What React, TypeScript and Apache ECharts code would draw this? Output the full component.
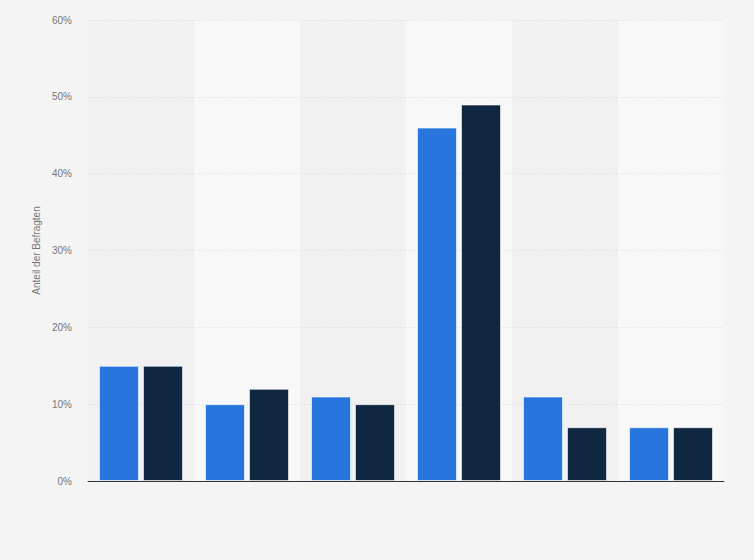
import React, { useEffect, useRef } from 'react'
import * as echarts from 'echarts'

const categories = ['Antwort 1', 'Antwort 2', 'Antwort 3', 'Antwort 4', 'Antwort 5', 'Antwort 6']
const seriesA = [15, 10, 11, 46, 11, 7]
const seriesB = [15, 12, 10, 49, 7, 7]
const yTicks = [0, 10, 20, 30, 40, 50, 60]

const App: React.FC = () => {
  const containerRef = useRef<HTMLDivElement>(null)

  useEffect(() => {
    if (!containerRef.current) return
    const chart = echarts.init(containerRef.current, undefined, { renderer: 'svg' })

    const font = 'Arial, Liberation Sans, sans-serif'
    const option: echarts.EChartsOption = {
      animation: false,
      backgroundColor: '#f4f4f4',
      grid: { left: 88, right: 30, top: 20, bottom: 79 },
      xAxis: {
        type: 'category',
        z: 0,
        data: categories,
        axisLabel: { show: false },
        axisTick: { show: false },
        axisLine: { lineStyle: { color: '#333333', width: 1 } },
        splitArea: { show: true, areaStyle: { color: ['#f1f1f1', '#f8f8f8'] } }
      },
      yAxis: {
        type: 'value',
        z: 1,
        min: yTicks[0],
        max: yTicks[yTicks.length - 1],
        interval: 10,
        name: 'Anteil der Befragten',
        nameLocation: 'middle',
        nameGap: 47,
        nameTextStyle: { color: '#777777', fontSize: 10, fontFamily: font },
        axisLine: { show: false },
        axisTick: { show: false },
        axisLabel: {
          formatter: '{value}%',
          color: '#777777',
          fontSize: 10,
          margin: 16,
          fontFamily: font
        },
        splitLine: {
          showMinLine: false,
          lineStyle: { color: '#d9d9d9', type: [1, 2], width: 1 }
        }
      },
      series: [
        {
          name: 'A',
          type: 'bar',
          z: 3,
          data: seriesA,
          barWidth: 40,
          barGap: '10%',
          itemStyle: { color: '#2876dd', borderColor: 'rgba(255,255,255,0.6)', borderWidth: 1 }
        },
        {
          name: 'B',
          type: 'bar',
          z: 3,
          data: seriesB,
          barWidth: 40,
          barGap: '10%',
          itemStyle: { color: '#0f2741', borderColor: 'rgba(255,255,255,0.6)', borderWidth: 1 }
        }
      ]
    }

    chart.setOption(option)
    return () => {
      chart.dispose()
    }
  }, [])

  return (
    <div
      ref={containerRef}
      style={{ position: 'absolute', left: 0, top: 0, width: 754, height: 560 }}
    />
  )
}

export default App
